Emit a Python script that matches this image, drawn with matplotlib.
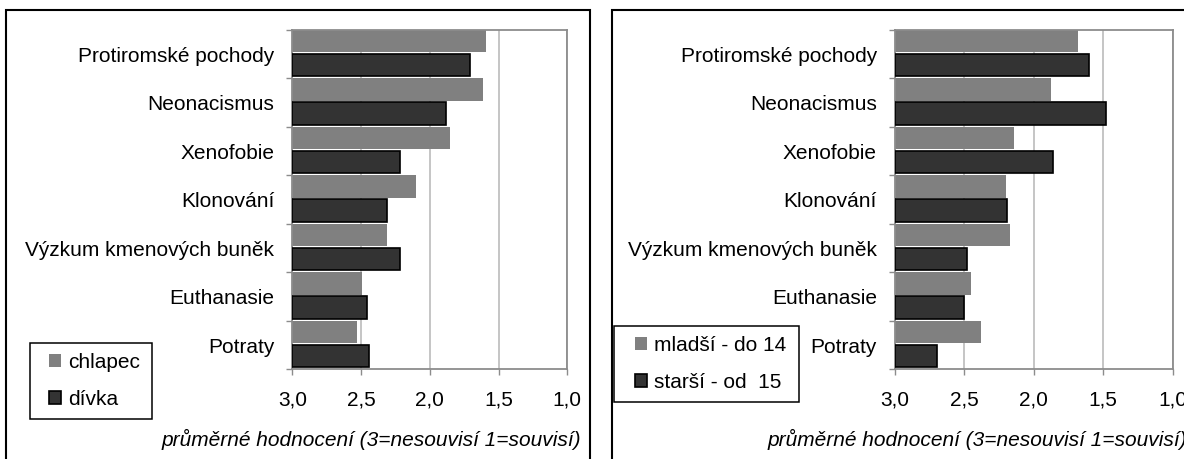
import numpy as np
import matplotlib
matplotlib.use("Agg")
import matplotlib.pyplot as plt
from matplotlib.patches import Rectangle

# --- data -------------------------------------------------------------
categories = ["Protiromské pochody", "Neonacismus", "Xenofobie", "Klonování",
              "Výzkum kmenových buněk", "Euthanasie", "Potraty"]
chlapec = [1.59, 1.61, 1.85, 2.10, 2.31, 2.49, 2.53]
divka = [1.71, 1.88, 2.22, 2.31, 2.22, 2.46, 2.44]
mladsi = [1.68, 1.88, 2.14, 2.20, 2.17, 2.45, 2.38]
starsi = [1.60, 1.48, 1.86, 2.19, 2.48, 2.50, 2.70]
xticks = [3.0, 2.5, 2.0, 1.5, 1.0]
xtick_labels = ["3,0", "2,5", "2,0", "1,5", "1,0"]
xlabel = "průměrné hodnocení (3=nesouvisí 1=souvisí)"

W, H = 1184, 459
plt.rcParams["font.family"] = ["Liberation Sans", "DejaVu Sans"]

LIGHT = "#808080"
DARK = "#333333"
SPINE = "#8c8c8c"
GRID = "#c0c0c0"
FS = 15


def fx(x):
    return x / W


def fy(y):
    return 1 - y / H


def box(fig, x0, y0, x1, y1, lw):
    fig.add_artist(Rectangle((fx(x0), fy(y1)), fx(x1) - fx(x0), fy(y0) - fy(y1),
                             transform=fig.transFigure, fill=False,
                             edgecolor="black", linewidth=lw, clip_on=False))


def draw_panel(fig, ax_px, border_px, top_vals, bot_vals, names, leg_box, leg_x):
    x0, y0, x1, y1 = ax_px
    ax = fig.add_axes([fx(x0), fy(y1), fx(x1) - fx(x0), fy(y0) - fy(y1)])
    n = len(categories)
    ypos = np.arange(n)[::-1].astype(float)

    ax.barh(ypos + 0.27, np.array(top_vals) - 3, left=3, height=0.46,
            color=LIGHT, linewidth=0, zorder=2, label=names[0])
    ax.barh(ypos - 0.225, np.array(bot_vals) - 3, left=3, height=0.46,
            color=DARK, edgecolor="black", linewidth=1.2, zorder=3, label=names[1])

    ax.set_xlim(3, 1)
    ax.set_ylim(-0.5, n - 0.5)
    ax.set_xticks(xticks)
    ax.set_xticklabels(xtick_labels, fontsize=FS)
    ax.set_yticks(ypos)
    ax.set_yticklabels(categories, fontsize=FS)
    ax.set_yticks(np.arange(n + 1) - 0.5, minor=True)
    ax.tick_params(axis="y", which="major", length=0, pad=13)
    ax.tick_params(axis="y", which="minor", length=4.3, width=1, color=SPINE)
    ax.tick_params(axis="x", length=4.3, width=1, color=SPINE, pad=11)
    ax.grid(axis="x", color=GRID, linewidth=1.3)
    ax.set_axisbelow(True)
    for sp in ax.spines.values():
        sp.set_color(SPINE)
        sp.set_linewidth(1.3)

    ax.text(1.052, -0.208, xlabel, transform=ax.transAxes, ha="right",
            va="center", style="italic", fontsize=FS)

    # panel frame and legend frame
    box(fig, *border_px, lw=1.5)
    lx0, ly0, lx1, ly1 = leg_box
    box(fig, lx0, ly0, lx1, ly1, lw=1.1)
    ax.legend(loc="center left", bbox_to_anchor=(fx(leg_x), fy((ly0 + ly1) / 2)),
              bbox_transform=fig.transFigure, frameon=False, fontsize=FS,
              borderpad=0, borderaxespad=0, handlelength=0.58, handleheight=0.58,
              handletextpad=0.32, labelspacing=0.87)
    return ax


fig = plt.figure(figsize=(W / 100, H / 100), dpi=100)

draw_panel(fig, (292.3, 30, 567.3, 369.3), (6, 10, 590, 480),
           chlapec, divka, ("chlapec", "dívka"),
           (30, 342.7, 151.7, 419.3), 49.3)
draw_panel(fig, (895, 30, 1172.7, 369.3), (612, 10, 1220, 480),
           mladsi, starsi, ("mladší - do 14", "starší - od  15"),
           (614.3, 325.7, 799, 401.7), 635)

fig.savefig("out.png", dpi=100)
